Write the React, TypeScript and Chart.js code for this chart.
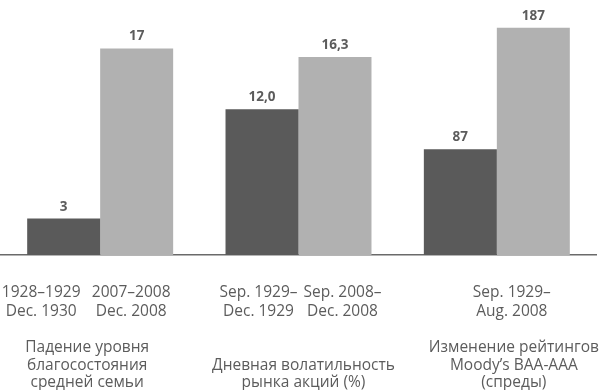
import { useEffect, useRef } from "react";
import { Chart, registerables } from "chart.js";

Chart.register(...registerables);

// ---- data ----
const categories = ["wealth", "volatility", "spreads"];
const descriptions: string[][] = [
  ["Падение уровня", "благосостояния", "средней семьи"],
  ["Дневная волатильность", "рынка акций (%)"],
  ["Изменение рейтингов", "Moody’s BAA-AAA", "(спреды)"],
];
const earlyValues = [3, 12.0, 87];
const lateValues = [17, 16.3, 187];
const valueDecimals = [0, 1, 0];
const periodLabels: string[][][] = [
  [["1928–1929", "Dec. 1930"], ["2007–2008", "Dec. 2008"]],
  [["Sep. 1929–", "Dec. 1929"], ["Sep. 2008–", "Dec. 2008"]],
  [["Sep. 1929–", "Aug. 2008"]],
];
const axisMax = [20, 20, 200];

// ---- style / layout ----
const DARK = "#5a5a5a";
const LIGHT = "#b1b1b1";
const TEXT = "#5c5c5c";
const FONT = "'Open Sans', 'Noto Sans', sans-serif";
const periodOffsets = [[-59, 31], [-40, 44], [15]];
const descOffsets = [-13, 5, 17];

const fmt = (v: number, d: number) => v.toFixed(d).replace(".", ",");

const textPlugin = {
  id: "texts",
  afterDatasetsDraw(chart: any) {
    const ctx = chart.ctx;
    const xs = chart.scales.x;
    const bottom = chart.chartArea.bottom;
    ctx.save();
    // value labels
    ctx.fillStyle = TEXT;
    ctx.textAlign = "center";
    ctx.textBaseline = "alphabetic";
    ctx.font = `bold 13.5px ${FONT}`;
    chart.data.datasets.forEach((ds: any, di: number) => {
      const meta = chart.getDatasetMeta(di);
      meta.data.forEach((el: any, i: number) => {
        const v = ds.data[i];
        if (v === null || v === undefined) return;
        ctx.fillText(fmt(v, valueDecimals[i]), el.x, el.y - 8);
      });
    });
    // period labels and descriptions
    ctx.font = `15.5px ${FONT}`;
    ctx.textBaseline = "middle";
    categories.forEach((_, g) => {
      const cx = xs.getPixelForValue(g);
      periodLabels[g].forEach((lines, k) => {
        lines.forEach((line, li) => {
          ctx.fillText(line, cx + periodOffsets[g][k], bottom + 38 + li * 19);
        });
      });
      const desc = descriptions[g];
      const lh = 17.5;
      desc.forEach((line, li) => {
        const y = bottom + 128 - (desc.length - 1 - li) * lh;
        ctx.fillText(line, cx + descOffsets[g], y);
      });
    });
    ctx.restore();
  },
};

export default function App() {
  const ref = useRef<HTMLCanvasElement>(null);
  useEffect(() => {
    const datasets: any[] = [];
    categories.forEach((_, g) => {
      datasets.push({
        label: `early-${g}`,
        data: categories.map((__, i) => (i === g ? earlyValues[g] : null)),
        backgroundColor: DARK,
        yAxisID: `y${g}`,
        borderWidth: 0,
      });
      datasets.push({
        label: `late-${g}`,
        data: categories.map((__, i) => (i === g ? lateValues[g] : null)),
        backgroundColor: LIGHT,
        yAxisID: `y${g}`,
        borderWidth: 0,
      });
    });
    const scales: any = {
      x: {
        type: "category",
        grid: { display: false, drawTicks: false },
        ticks: { display: false },
        border: { display: true, color: "#6a6a6a", width: 1.5 },
      },
    };
    axisMax.forEach((m, g) => {
      scales[`y${g}`] = { display: false, min: 0, max: m };
    });
    const chart = new Chart(ref.current!, {
      type: "bar",
      data: { labels: categories, datasets },
      options: {
        responsive: false,
        animation: false,
        skipNull: true,
        categoryPercentage: 0.736,
        barPercentage: 1,
        layout: { padding: { top: 12, left: 1, right: 4, bottom: 135 } },
        plugins: { legend: { display: false }, tooltip: { enabled: false } },
        scales,
      } as any,
      plugins: [textPlugin],
    });
    return () => chart.destroy();
  }, []);
  return (
    <div style={{ position: "fixed", left: 0, top: 0, width: 600, height: 390, background: "#fff" }}>
      <canvas ref={ref} width={600} height={390} style={{ width: 600, height: 390 }} />
    </div>
  );
}
